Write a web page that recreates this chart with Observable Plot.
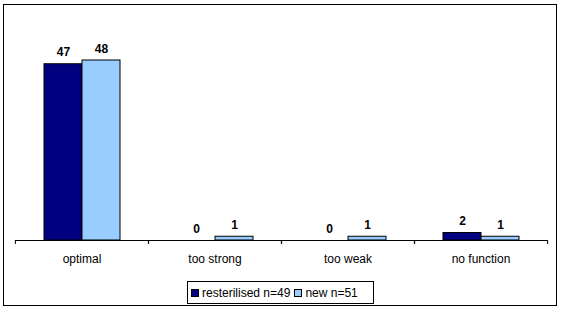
<!DOCTYPE html>
<html>
<head>
<meta charset="utf-8">
<script src="https://cdn.jsdelivr.net/npm/d3@7"></script>
<script src="https://cdn.jsdelivr.net/npm/@observablehq/plot@0.6"></script>
<style>
  body { margin: 0; background: white; }
  #wrap { position: relative; width: 561px; height: 312px; font-family: Arial, "Liberation Sans", sans-serif; }
  #border { position: absolute; left: 3px; top: 4px; width: 554px; height: 302px; box-sizing: border-box; border: 1px solid black; pointer-events: none; }
  #chart { position: absolute; left: 0; top: 0; }
  #legend { position: absolute; left: 187px; top: 281px; width: 187px; height: 23px; box-sizing: border-box; border: 1px solid black; background: white;
            display: flex; align-items: center; font-size: 12px; padding-left: 3px; white-space: nowrap; }
  .item { display: flex; align-items: center; margin-right: 4px; }
  .sw { width: 8px; height: 8px; box-sizing: border-box; border: 1px solid black; margin-right: 3px; }
</style>
</head>
<body>
<div id="wrap">
  <div id="chart"></div>
  <div id="border"></div>
  <div id="legend"></div>
</div>
<script>
const categories = ["optimal", "too strong", "too weak", "no function"];
const series = ["resterilised n=49", "new n=51"];
const resterilised = [47, 0, 0, 2];
const newValues = [48, 1, 1, 1];
const colors = ["#000080", "#99CCFF"];

const data = categories.flatMap((c, i) => [
  {category: c, series: series[0], value: resterilised[i]},
  {category: c, series: series[1], value: newValues[i]}
]);

const W = 561, H = 312, mL = 14, mR = 14;
const band = (W - mL - mR) / categories.length;

const chart = Plot.plot({
  width: W, height: H,
  marginLeft: mL, marginRight: mR, marginTop: 15, marginBottom: 72,
  style: {fontFamily: "Arial, 'Liberation Sans', sans-serif", fontSize: "12px", background: "transparent", color: "black"},
  fx: {domain: categories, padding: 0, label: null},
  x: {domain: series, paddingInner: 0, paddingOuter: 0.75, axis: null},
  y: {domain: [0, 60], axis: null},
  color: {domain: series, range: colors},
  marks: [
    Plot.barY(data, {fx: "category", x: "series", y: "value", fill: "series", stroke: "black", strokeWidth: 1}),
    Plot.ruleY([0], {stroke: "black"}),
    Plot.text(data, {fx: "category", x: "series", y: "value", text: "value", dy: -8, lineAnchor: "bottom", fontWeight: "bold", fontSize: 12, fill: "black"}),
    Plot.axisFx({anchor: "bottom", tickSize: 0, tickPadding: 14, fontSize: 12, label: null}),
    Plot.axisFx({anchor: "bottom", tickSize: 4, dx: -band / 2, tickFormat: () => "", label: null}),
    Plot.axisFx({anchor: "bottom", tickSize: 4, dx: band / 2, tickFormat: () => "", label: null})
  ]
});
document.getElementById("chart").appendChild(chart);

const legend = document.getElementById("legend");
series.forEach((s, i) => {
  const item = document.createElement("div");
  item.className = "item";
  const sw = document.createElement("div");
  sw.className = "sw";
  sw.style.background = colors[i];
  const t = document.createElement("span");
  t.textContent = s;
  item.appendChild(sw);
  item.appendChild(t);
  legend.appendChild(item);
});
</script>
</body>
</html>
